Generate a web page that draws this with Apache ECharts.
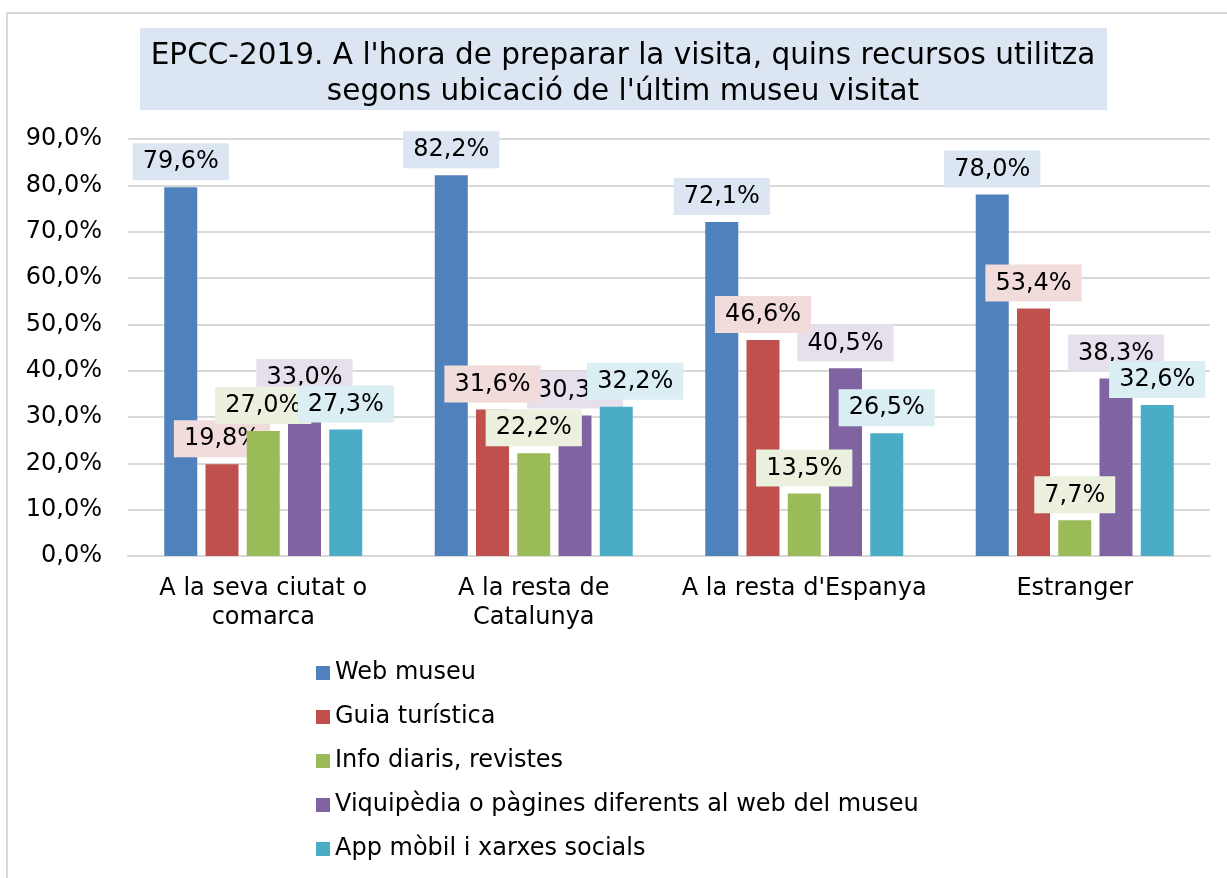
<!DOCTYPE html>
<html>
<head>
<meta charset="utf-8">
<script src="https://cdn.jsdelivr.net/npm/echarts@6/dist/echarts.min.js"></script>
<style>
  html, body { margin: 0; padding: 0; background: #ffffff; }
  #chart { width: 1227px; height: 878px; }
</style>
</head>
<body>
<div id="chart"></div>
<script>
// Ubicació de l'últim museu visitat
const categories = [
  'A la seva ciutat o\ncomarca',
  'A la resta de\nCatalunya',
  "A la resta d'Espanya",
  'Estranger'
];

// Percentatges per recurs utilitzat
const seriesNames = [
  'Web museu',
  'Guia turística',
  'Info diaris, revistes',
  'Viquipèdia o pàgines diferents al web del museu',
  'App mòbil i xarxes socials'
];
const webMuseu   = [79.6, 82.2, 72.1, 78.0];
const guia       = [19.8, 31.6, 46.6, 53.4];
const infoDiaris = [27.0, 22.2, 13.5, 7.7];
const viquipedia = [33.0, 30.3, 40.5, 38.3];
const appMobil   = [27.3, 32.2, 26.5, 32.6];

const yTicks = [0, 10, 20, 30, 40, 50, 60, 70, 80, 90];

const colors   = ['#4f81bd', '#c0504d', '#9bbb59', '#8064a2', '#4bacc6'];
const labelBgs = ['#dce6f2', '#f2dcdb', '#ebf1de', '#e6e0ec', '#dbeef4'];
// stacking of the value boxes where they overlap
const zOrder   = [2, 3, 4, 2, 5];
// hand-moved value box (series index, category index, [dx, dy])
const labelNudges = [[4, 1, [19, 0]]];

const FONT = 'DejaVu Sans, Verdana, sans-serif';
const pct = v => v.toFixed(1).replace('.', ',') + '%';

const values = [webMuseu, guia, infoDiaris, viquipedia, appMobil];

const series = seriesNames.map((name, i) => ({
  name: name,
  type: 'bar',
  data: values[i].map((v, j) => {
    const n = labelNudges.find(d => d[0] === i && d[1] === j);
    return n ? { value: v, label: { offset: n[2] } } : v;
  }),
  z: zOrder[i],
  barWidth: 33,
  barGap: '25%',
  itemStyle: { color: colors[i] },
  label: {
    show: true,
    position: 'top',
    distance: 7,
    formatter: p => pct(p.value),
    fontFamily: FONT,
    fontSize: 24,
    lineHeight: 26,
    color: '#000000',
    backgroundColor: labelBgs[i],
    padding: [6, 10, 5, 10]
  }
}));

const chart = echarts.init(document.getElementById('chart'), null, { renderer: 'canvas' });

chart.setOption({
  backgroundColor: '#ffffff',
  animation: false,
  color: colors,
  graphic: [
    {
      type: 'rect',
      z: -10,
      shape: { x: 7, y: 13, width: 1300, height: 1000 },
      style: { fill: 'none', stroke: '#d9d9d9', lineWidth: 2 }
    },
    {
      type: 'rect',
      z: -5,
      shape: { x: 140, y: 28, width: 967, height: 82 },
      style: { fill: '#dce6f2' }
    }
  ],
  title: {
    text: "EPCC-2019. A l'hora de preparar la visita, quins recursos utilitza\nsegons ubicació de l'últim museu visitat",
    left: 618,
    top: 33,
    textAlign: 'center',
    textStyle: {
      fontFamily: FONT,
      fontWeight: 'normal',
      fontSize: 29.5,
      lineHeight: 36,
      color: '#000000'
    }
  },
  legend: {
    data: seriesNames,
    orient: 'vertical',
    left: 316,
    top: 661,
    padding: 0,
    itemWidth: 14,
    itemHeight: 14,
    itemGap: 20,
    icon: 'rect',
    textStyle: {
      fontFamily: FONT,
      fontSize: 24,
      lineHeight: 24,
      color: '#000000'
    }
  },
  grid: {
    left: 128,
    right: 1227 - 1210,
    top: 139,
    bottom: 878 - 556,
    containLabel: false
  },
  xAxis: {
    type: 'category',
    data: categories,
    axisLine: { show: true, lineStyle: { color: '#d9d9d9', width: 2 } },
    axisTick: { show: false },
    axisLabel: {
      interval: 0,
      margin: 18,
      fontFamily: FONT,
      fontSize: 24,
      lineHeight: 29,
      color: '#000000'
    }
  },
  yAxis: {
    type: 'value',
    min: yTicks[0],
    max: yTicks[yTicks.length - 1],
    interval: yTicks[1] - yTicks[0],
    axisLine: { show: false },
    axisTick: { show: false },
    splitLine: { lineStyle: { color: '#d9d9d9', width: 2 } },
    axisLabel: {
      margin: 26,
      formatter: v => pct(v),
      fontFamily: FONT,
      fontSize: 24,
      color: '#000000'
    }
  },
  series: series
});
</script>
</body>
</html>
